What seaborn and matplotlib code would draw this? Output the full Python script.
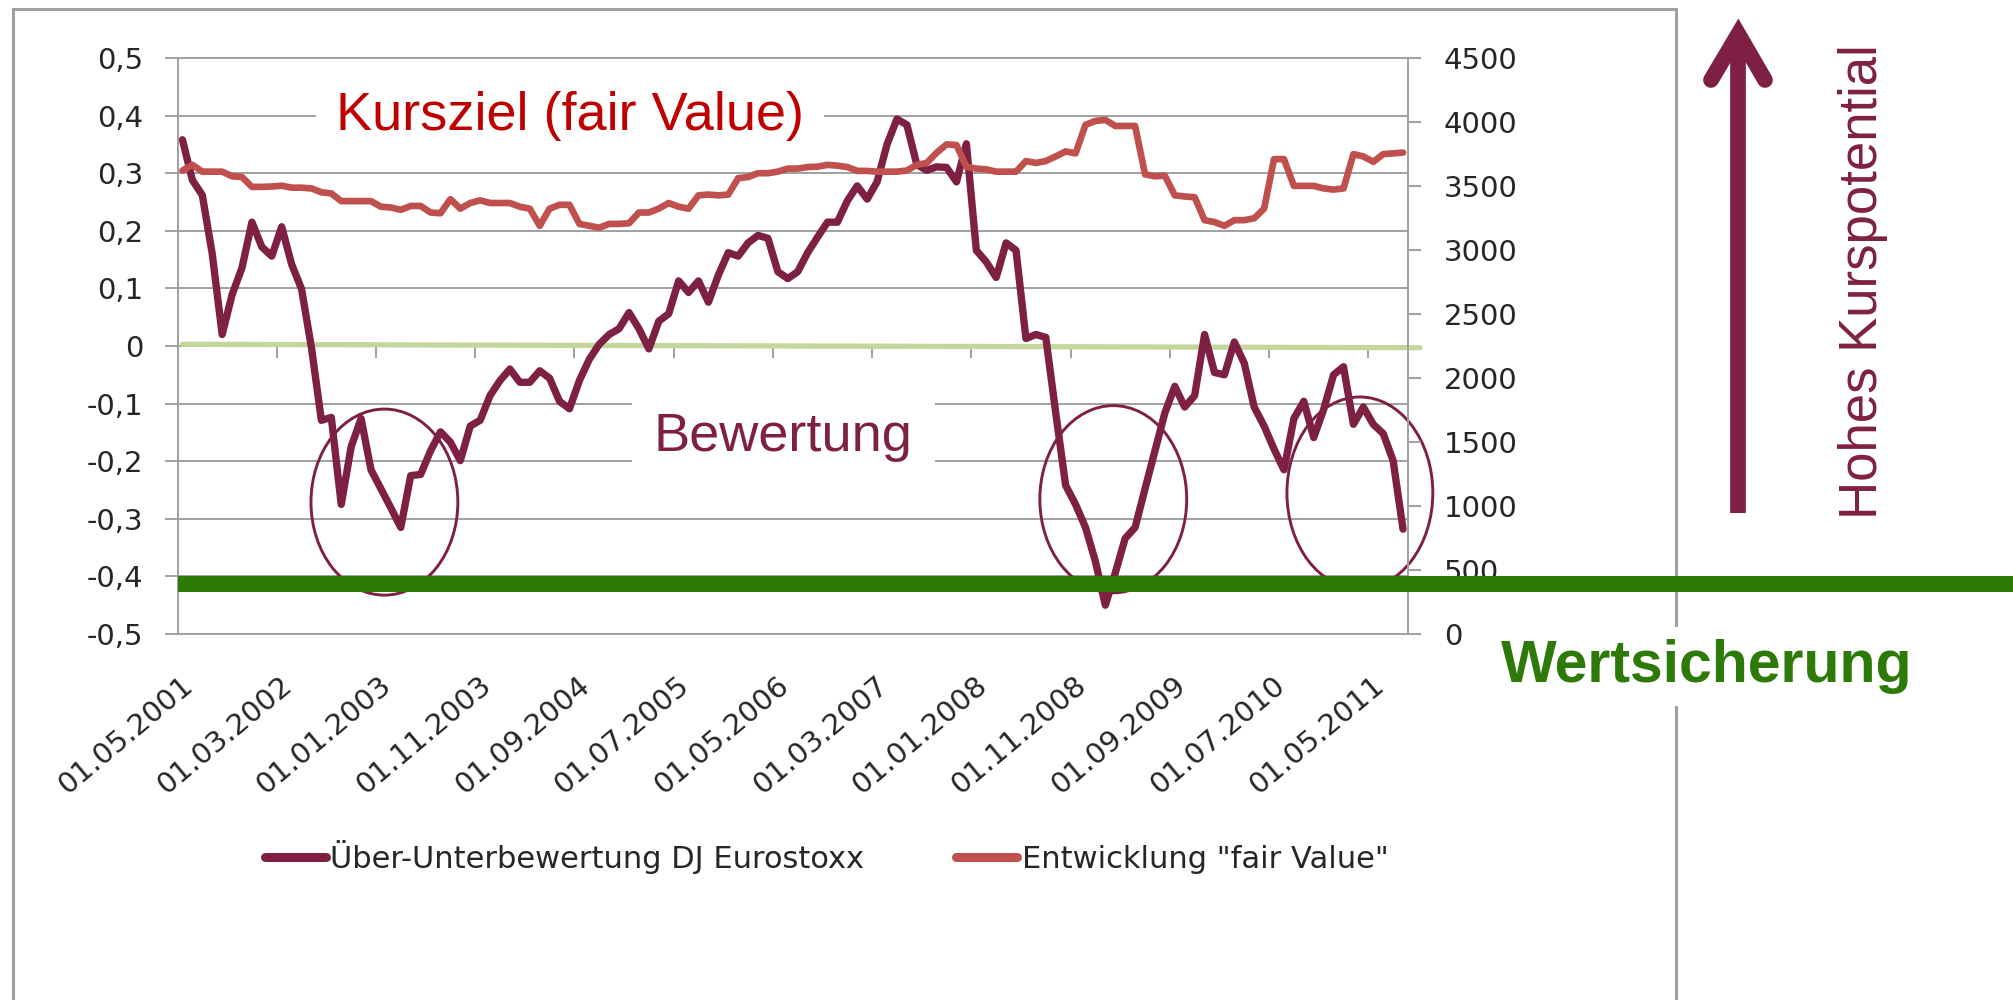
import numpy as np
import pandas as pd
import seaborn as sns
import matplotlib.pyplot as plt
from matplotlib import transforms
from matplotlib.lines import Line2D
from matplotlib.patches import Ellipse, Rectangle

# Monatswerte 05/2001 - 08/2011
bewertung = [
    0.358, 0.288, 0.262, 0.160, 0.020, 0.089, 0.136, 0.215, 0.172, 0.156,
    0.207, 0.142, 0.099, -0.003, -0.129, -0.124, -0.275, -0.175, -0.126, -0.215,
    -0.248, -0.281, -0.315, -0.225, -0.223, -0.182, -0.149, -0.167, -0.199, -0.139,
    -0.129, -0.086, -0.060, -0.040, -0.063, -0.063, -0.043, -0.056, -0.096, -0.109,
    -0.060, -0.023, 0.003, 0.020, 0.030, 0.058, 0.030, -0.005, 0.043, 0.056,
    0.113, 0.093, 0.113, 0.076, 0.123, 0.162, 0.156, 0.179, 0.192, 0.187,
    0.129, 0.117, 0.129, 0.162, 0.189, 0.215, 0.215, 0.252, 0.278, 0.255,
    0.285, 0.350, 0.394, 0.384, 0.315, 0.305, 0.311, 0.310, 0.285, 0.351,
    0.166, 0.146, 0.119, 0.179, 0.166, 0.013, 0.020, 0.015, -0.116, -0.242,
    -0.275, -0.315, -0.374, -0.450, -0.394, -0.334, -0.315, -0.248, -0.182, -0.116,
    -0.070, -0.106, -0.086, 0.020, -0.046, -0.050, 0.007, -0.030, -0.106, -0.139,
    -0.179, -0.215, -0.126, -0.096, -0.159, -0.110, -0.050, -0.036, -0.136, -0.106,
    -0.136, -0.152, -0.199, -0.318]

fair_value = [
    3621, 3665, 3612, 3612, 3612, 3576, 3570, 3493, 3493, 3496,
    3502, 3487, 3487, 3481, 3451, 3442, 3382, 3382, 3382, 3382,
    3338, 3332, 3314, 3344, 3344, 3293, 3287, 3397, 3323, 3367,
    3388, 3367, 3367, 3367, 3338, 3323, 3189, 3323, 3353, 3353,
    3204, 3189, 3174, 3204, 3204, 3209, 3293, 3293, 3323, 3367,
    3338, 3323, 3427, 3433, 3427, 3433, 3561, 3570, 3600, 3600,
    3612, 3636, 3636, 3648, 3651, 3665, 3659, 3648, 3618, 3618,
    3612, 3612, 3612, 3621, 3665, 3680, 3760, 3825, 3820, 3650,
    3636, 3630, 3612, 3612, 3612, 3695, 3680, 3695, 3731, 3770,
    3755, 3978, 4008, 4017, 3969, 3969, 3969, 3591, 3576, 3580,
    3427, 3418, 3412, 3233, 3218, 3189, 3233, 3233, 3248, 3323,
    3710, 3710, 3501, 3501, 3501, 3481, 3472, 3481, 3749, 3731,
    3689, 3749, 3755, 3761]

y_left_ticks = [-0.5, -0.4, -0.3, -0.2, -0.1, 0.0, 0.1, 0.2, 0.3, 0.4, 0.5]
y_left_labels = ['-0,5', '-0,4', '-0,3', '-0,2', '-0,1', '0', '0,1', '0,2', '0,3', '0,4', '0,5']
y_right_ticks = [0, 500, 1000, 1500, 2000, 2500, 3000, 3500, 4000, 4500]
series_names = ['Über-Unterbewertung DJ Eurostoxx', 'Entwicklung "fair Value"']

# Nulllinie (leicht schief) und Wertsicherungsniveau
zero_x = [0, 124.7]
zero_y = [0.003, -0.003]
wert_level = -0.414

dates = pd.date_range('2001-05-01', periods=len(bewertung), freq='MS')
df = pd.DataFrame({'pos': np.arange(len(bewertung)),
                   'bewertung': bewertung,
                   'fair_value': fair_value})
tick_pos = df['pos'].values[::10]
tick_labels = dates[::10].strftime('%d.%m.%Y')

maroon = '#7e2044'
red = '#c0504d'
grid_c = '#a0a0a0'
lightgreen = '#c3d69b'
green = '#2e7a08'

sns.set_style('white')
plt.rcParams['font.family'] = ['DejaVu Sans']

W, H = 2013, 1000
fig = plt.figure(figsize=(W / 100, H / 100), dpi=100)
ax = fig.add_axes([177.5 / W, 1 - 634 / H, (1408 - 177.5) / W, 576 / H])
ax2 = ax.twinx()

sns.lineplot(x=zero_x, y=zero_y, ax=ax, color=lightgreen, linewidth=3.8,
             clip_on=False, zorder=1.6)
sns.lineplot(data=df, x='pos', y='bewertung', ax=ax, color=maroon, linewidth=5.3,
             solid_joinstyle='round', zorder=2)
sns.lineplot(data=df, x='pos', y='fair_value', ax=ax2, color=red, linewidth=4.8,
             solid_joinstyle='round')

ax.set_xlim(-0.5, len(df) - 0.5)
ax.set_ylim(-0.5, 0.5)
ax2.set_ylim(0, 4500)
ax.set_xlabel('')
ax.set_ylabel('')
ax2.set_ylabel('')

ax.set_yticks(y_left_ticks, y_left_labels)
ax2.set_yticks(y_right_ticks, [str(v) for v in y_right_ticks])
ax.grid(axis='y', color=grid_c, linewidth=1.4)
ax.grid(axis='x', visible=False)

for s in ['top', 'bottom', 'left']:
    ax.spines[s].set_color(grid_c)
    ax.spines[s].set_linewidth(1.4)
ax.spines['right'].set_visible(False)
for s in ['top', 'bottom', 'left']:
    ax2.spines[s].set_visible(False)
ax2.spines['right'].set_color(grid_c)
ax2.spines['right'].set_linewidth(1.4)

ax.tick_params(axis='y', length=9.4, width=1.4, color=grid_c, pad=15, labelsize=21)
ax2.tick_params(axis='y', length=9.4, width=1.4, color=grid_c, pad=16.5, labelsize=21)

ax.set_xticks(tick_pos, tick_labels, rotation=40, ha='right', va='center',
              rotation_mode='anchor')
ax.tick_params(axis='x', length=0, pad=34.6, labelsize=21)
shift = transforms.ScaledTranslation(0.07, 0, fig.dpi_scale_trans)
for lab in ax.get_xticklabels():
    lab.set_transform(lab.get_transform() + shift)

# kleine Teilstriche an der Nulllinie (Kategoriegrenzen)
ax.vlines(df['pos'].values[10::10] - 0.5, -12 / 576, 0, color=grid_c, linewidth=1.4, zorder=1)

# Kreise um die Tiefpunkte
for cx, cy, w, h in [(20.35, -0.271, 14.8, 0.323), (93.8, -0.266, 14.8, 0.325),
                     (118.65, -0.255, 14.7, 0.333)]:
    ax.add_patch(Ellipse((cx, cy), w, h, fill=False, edgecolor=maroon, linewidth=2.1,
                         clip_on=False, zorder=3))

# Texte
fig.text(336 / W, 1 - 130 / H, 'Kursziel (fair Value)', fontsize=39, color='#c00000',
         family='Liberation Sans', ha='left', va='baseline',
         bbox=dict(boxstyle='square,pad=0.37', fc='white', ec='none'))
fig.text(654 / W, 1 - 451 / H, 'Bewertung', fontsize=39, color=maroon,
         family='Liberation Sans', ha='left', va='baseline',
         bbox=dict(boxstyle='square,pad=0.4', fc='white', ec='none'))
fig.text(1877 / W, 1 - 519 / H, 'Hohes Kurspotential', fontsize=38, color=maroon,
         family='Liberation Sans', rotation=90, rotation_mode='anchor',
         ha='left', va='baseline')
fig.text(1501 / W, 1 - 682 / H, 'Wertsicherung', fontsize=42.5, fontweight='bold',
         color=green, family='Liberation Sans', ha='left', va='baseline', zorder=4,
         bbox=dict(boxstyle='square,pad=0.2', fc='white', ec='none'))

# Rahmen
fig.add_artist(Rectangle((13 / W, -0.05), (1676 - 13) / W, 1.041, transform=fig.transFigure,
                         fill=False, edgecolor='#a0a0a0', linewidth=2.2, zorder=1))

# Pfeil
ax_x = 1738.3 / W
fig.add_artist(Line2D([ax_x, ax_x], [1 - 513 / H, 1 - 37 / H], color=maroon, linewidth=11.3,
                      solid_capstyle='butt', zorder=5))
fig.add_artist(Line2D([1711 / W, ax_x, 1765 / W], [1 - 80 / H, 1 - 34 / H, 1 - 80 / H],
                      color=maroon, linewidth=11.3, solid_capstyle='round',
                      solid_joinstyle='miter', zorder=5))

# Wertsicherungslinie
blend = transforms.blended_transform_factory(fig.transFigure, ax.transData)
fig.add_artist(Line2D([177.5 / W, 1.0], [wert_level, wert_level], transform=blend,
                      color=green, linewidth=11.5, solid_capstyle='butt', zorder=10))

handles = [Line2D([], [], color=maroon, linewidth=6.5), Line2D([], [], color=red, linewidth=6.5)]
fig.legend(handles, series_names, loc='center', bbox_to_anchor=(826.5 / W, 1 - 857 / H),
           ncol=2, frameon=False, fontsize=22, handlelength=2.0, handletextpad=0.15,
           columnspacing=3.0)

fig.savefig('out.png', dpi=100)
